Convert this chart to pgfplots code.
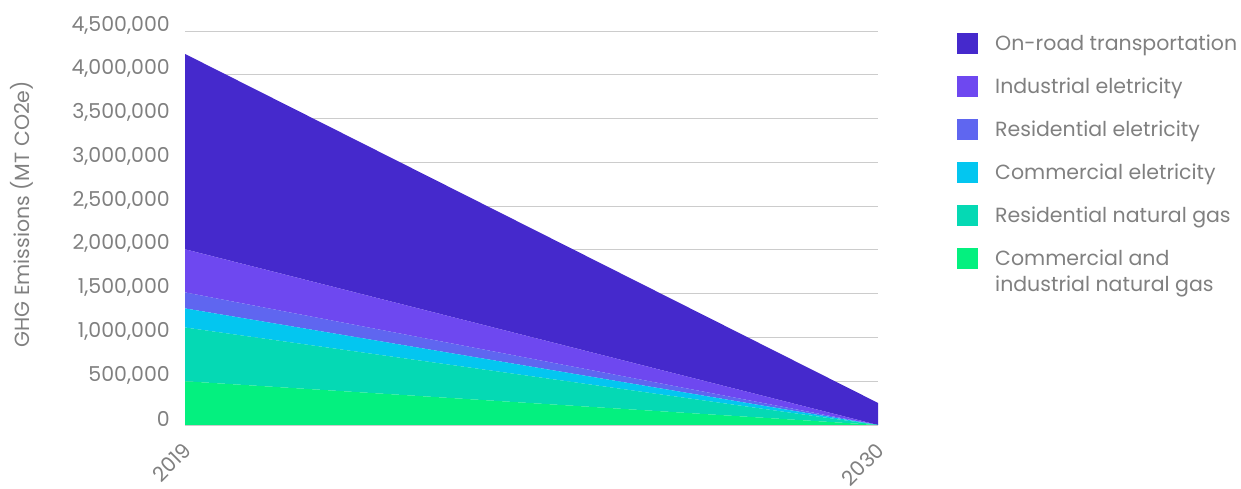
\documentclass[border=0pt]{standalone}
\usepackage{pgfplots}
\pgfplotsset{compat=1.18}
\usepackage{fontspec}
\setmainfont{Poppins}
\definecolor{onroad}{HTML}{4529CC}
\definecolor{indel}{HTML}{6E48F0}
\definecolor{resel}{HTML}{5F66F0}
\definecolor{comel}{HTML}{03C6F0}
\definecolor{resgas}{HTML}{05D9B4}
\definecolor{cigas}{HTML}{04F07F}
\definecolor{txt}{HTML}{808080}
\definecolor{gridc}{HTML}{CCCCCC}
\begin{document}
\begin{tikzpicture}
\useasboundingbox (0,0) rectangle (1241pt,489pt);
\begin{axis}[
    at={(185pt,64pt)}, anchor=south west,
    scale only axis,
    width=693pt, height=394pt,
    xmin=2019, xmax=2030,
    ymin=0, ymax=4500000,
    stack plots=y,
    axis line style={draw=none},
    major tick style={draw=none},
    ymajorgrids, major grid style={gridc, line width=0.8pt},
    ytick={0,500000,...,4500000},
    xtick={2019,2030},
    scaled y ticks=false,
    /pgf/number format/.cd, fixed, 1000 sep={,}, assume math mode=true, /pgfplots/.cd,
    x tick label style={/pgf/number format/1000 sep=},
    tick label style={font=\fontsize{20.5}{24}\selectfont, text=txt},
    yticklabel style={anchor=east, inner sep=0pt, xshift=-15pt, yshift=6pt},
    xticklabel style={xshift=-3pt, yshift=-16pt, rotate=45, anchor=north east, inner sep=0pt},
    ylabel={GHG Emissions (MT CO2e)},
    every axis y label/.style={at={(rel axis cs:0,0.535)}, xshift=-163pt, rotate=90, anchor=center, font=\fontsize{20.5}{24}\selectfont, text=txt},
    legend style={at={(rel axis cs:1.114,0.995)}, anchor=north west, draw=none, fill=none,
        font=\fontsize{20.5}{26}\selectfont, text=txt, row sep=22pt, column sep=17pt,
        cells={anchor=base west},
        nodes={inner sep=0pt, text height=17.5pt, text depth=3.5pt},
        inner sep=0pt},
    legend image code/.code={\fill[#1] (0pt,-3.5pt) rectangle (21pt,17.5pt);},
    reverse legend,
]
\addplot[fill=cigas, draw=none] coordinates {(2019,500000) (2030,0)} \closedcycle;
\addlegendentry{\begin{tabular}[t]{@{}l@{}}Commercial and\\industrial natural gas\end{tabular}}
\addplot[fill=resgas, draw=none] coordinates {(2019,614000) (2030,0)} \closedcycle;
\addlegendentry{Residential natural gas}
\addplot[fill=comel, draw=none] coordinates {(2019,218000) (2030,0)} \closedcycle;
\addlegendentry{Commercial eletricity}
\addplot[fill=resel, draw=none] coordinates {(2019,183000) (2030,0)} \closedcycle;
\addlegendentry{Residential eletricity}
\addplot[fill=indel, draw=none] coordinates {(2019,492000) (2030,0)} \closedcycle;
\addlegendentry{Industrial eletricity}
\addplot[fill=onroad, draw=none] coordinates {(2019,2231000) (2030,252000)} \closedcycle;
\addlegendentry{On-road transportation}
\end{axis}
\end{tikzpicture}
\end{document}
